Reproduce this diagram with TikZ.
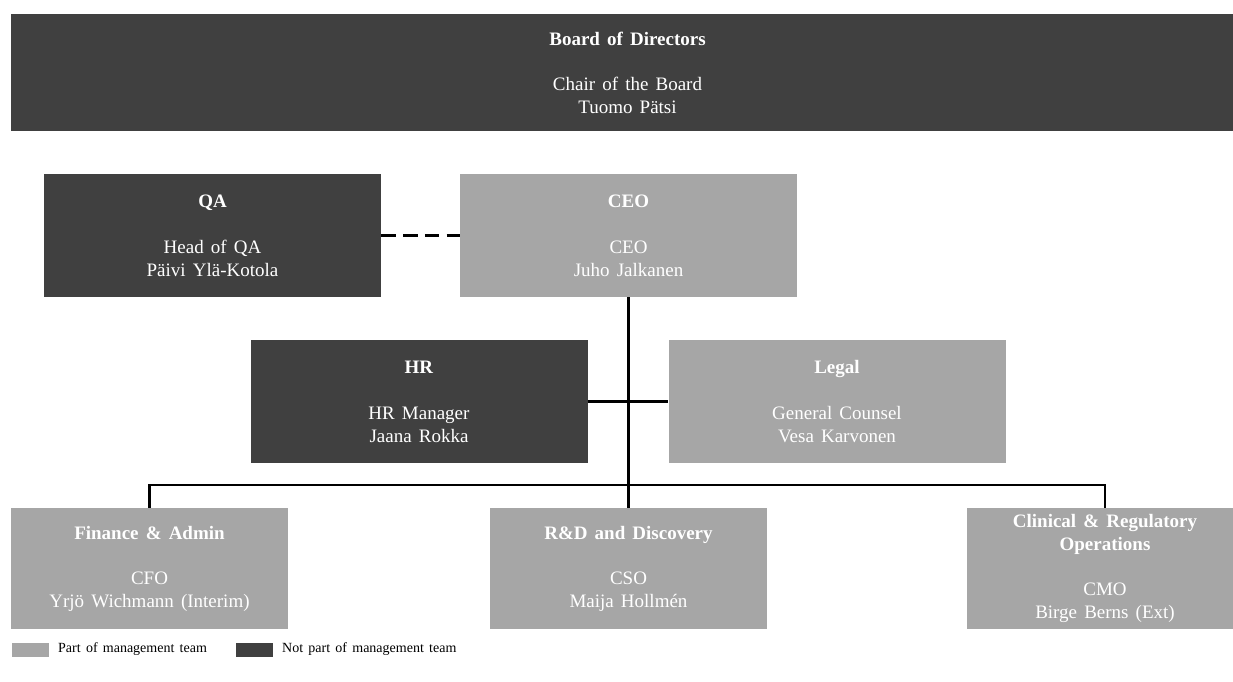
\documentclass[tikz,border=0pt]{standalone}
\usepackage{fontspec}
\setmainfont[WordSpace=1.5]{Liberation Serif}
\definecolor{dk}{HTML}{404040}
\definecolor{lt}{HTML}{A6A6A6}
\begin{document}
\begin{tikzpicture}[x=1pt,y=-1pt,
  box/.style={rectangle, inner sep=0pt, text=white, align=center, font=\fontsize{19}{23}\selectfont},
  dkbox/.style={box, fill=dk},
  ltbox/.style={box, fill=lt},
  bigbox/.style={minimum width=337pt, minimum height=123pt},
  smallbox/.style={minimum width=277pt, minimum height=121pt},
  conn/.style={line width=2.5pt, black},
  dashconn/.style={conn, dash pattern=on 14.5pt off 7.3pt},
  legsq/.style={rectangle, inner sep=0pt, minimum width=37pt, minimum height=14pt},
  legtxt/.style={anchor=west, inner sep=0pt, font=\fontsize{14}{16}\selectfont}
]
\path[use as bounding box] (0,0) rectangle (1233,682);
\clip (0,0) rectangle (1233,682);
\fill[white] (0,0) rectangle (1233,682);

\node[dkbox, minimum width=1233pt, minimum height=116pt] (board) at (627.5,72.5)
  {\textbf{Board of Directors}\\[22pt] Chair of the Board\\ Tuomo Pätsi};

\node[dkbox, bigbox] (qa) at (212.5,235.5)
  {\textbf{QA}\\[23pt] Head of QA\\ Päivi Ylä-Kotola};
\node[ltbox, bigbox] (ceo) at (628.5,235.5)
  {\textbf{CEO}\\[23pt] CEO\\ Juho Jalkanen};

\node[dkbox, bigbox] (hr) at (419,401.5)
  {\textbf{HR}\\[23pt] HR Manager\\ Jaana Rokka};
\node[ltbox, bigbox] (legal) at (837,401.5)
  {\textbf{Legal}\\[23pt] General Counsel\\ Vesa Karvonen};

\node[ltbox, smallbox] (fin) at (149.5,568.5)
  {\textbf{Finance \& Admin}\\[22pt] CFO\\ Yrjö Wichmann (Interim)};
\node[ltbox, smallbox] (rd) at (628.5,568.5)
  {\textbf{R\&D and Discovery}\\[22pt] CSO\\ Maija Hollmén};
\node[ltbox, smallbox] (clin) at (1105,568.5)
  {\textbf{Clinical \& Regulatory}\\ \textbf{Operations}\\[22pt] CMO\\ Birge Berns (Ext)};

\coordinate (bar) at (628,485);

\draw[dashconn] (qa.east) -- (ceo.west);
\draw[conn] (hr.east) -- (legal.west);
\draw[conn] (ceo.south) -- (rd.north);
\draw[conn] (fin.north) -- (fin.north |- bar) -- (clin.north |- bar) -- (clin.north);

\node[legsq, fill=lt] (lg1) at (30.5,649.5) {};
\node[legtxt] (lt1) at (58,649.5) {Part of management team};
\node[legsq, fill=dk] (lg2) at (254.5,649.5) {};
\node[legtxt] (lt2) at (282,649.5) {Not part of management team};
\end{tikzpicture}
\end{document}
